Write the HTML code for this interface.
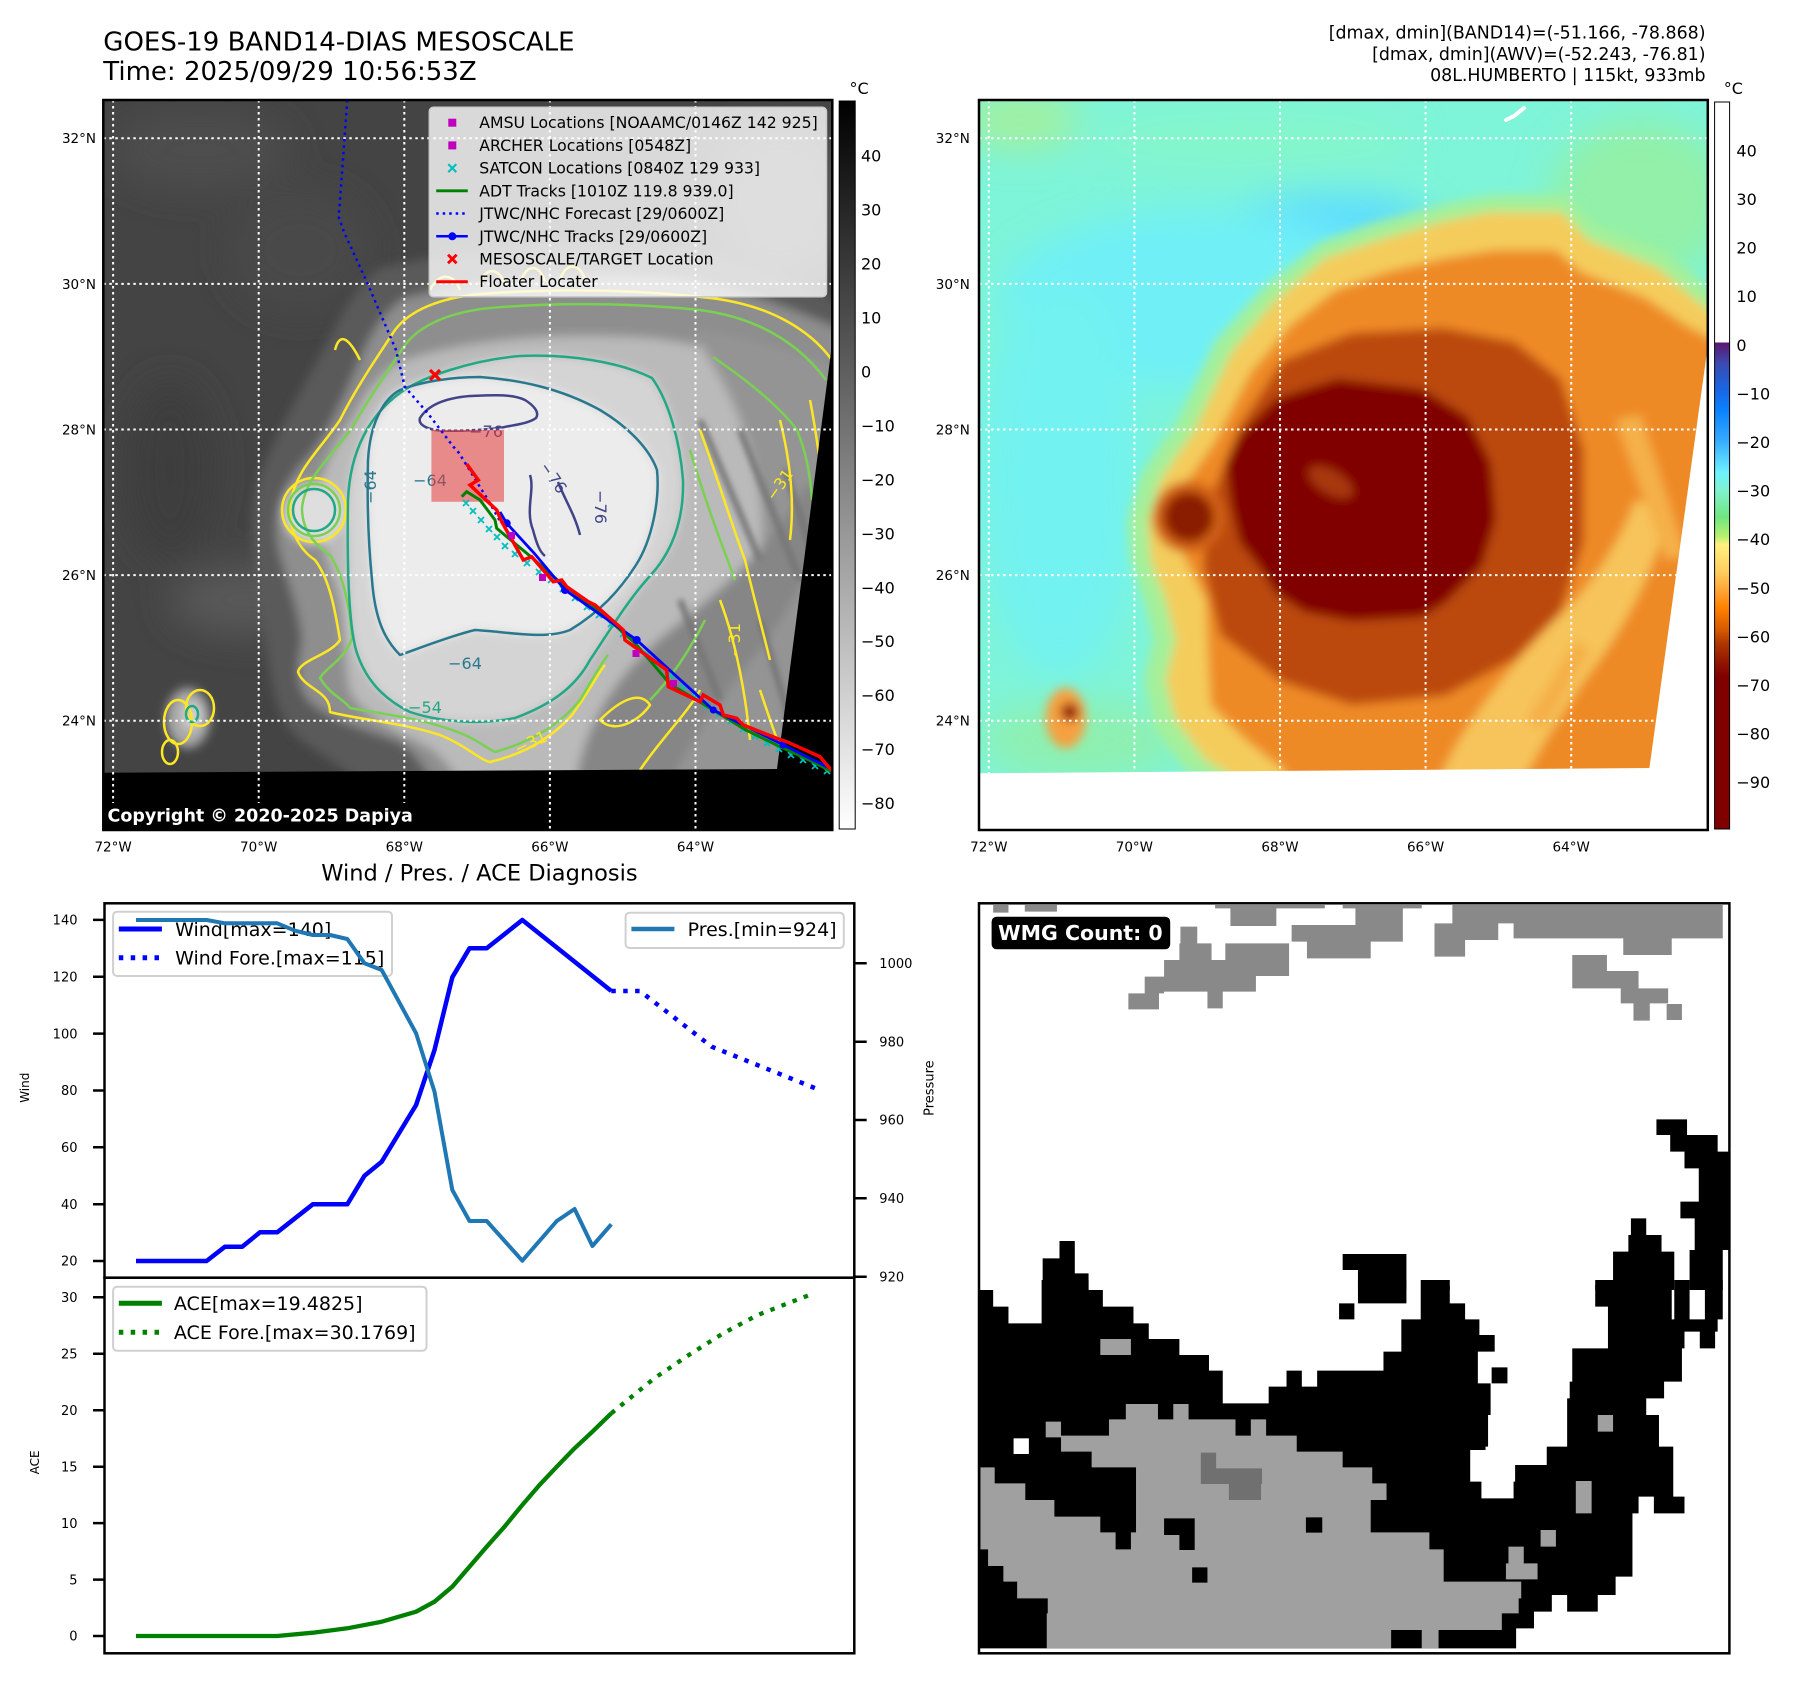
<!DOCTYPE html>
<html><head><meta charset="utf-8"><style>
html,body{margin:0;padding:0;background:#fff;}
body{width:1797px;height:1690px;overflow:hidden;}
svg{display:block;font-family:"DejaVu Sans","Liberation Sans",sans-serif;}
</style></head><body>
<svg width="1797" height="1690" viewBox="0 0 1797 1690" xmlns="http://www.w3.org/2000/svg">
<defs>
<clipPath id="clipL"><rect x="103.3" y="100" width="729" height="730"/></clipPath>
<clipPath id="clipR"><rect x="979" y="100" width="728.8" height="730"/></clipPath>
<filter id="b5" x="-20%" y="-20%" width="140%" height="140%"><feGaussianBlur stdDeviation="5"/></filter>
<filter id="b18" x="-50%" y="-50%" width="200%" height="200%"><feGaussianBlur stdDeviation="18"/></filter>
<filter id="b3" x="-20%" y="-20%" width="140%" height="140%"><feGaussianBlur stdDeviation="3"/></filter>
<linearGradient id="gL" x1="0" y1="0" x2="0" y2="1"><stop offset="0" stop-color="#000"/><stop offset="1" stop-color="#fff"/></linearGradient>
<linearGradient id="gR" x1="0" y1="0" x2="0" y2="1">
<stop offset="0" stop-color="#fff"/><stop offset="0.331" stop-color="#fff"/>
<stop offset="0.3311" stop-color="#5c1670"/><stop offset="0.359" stop-color="#3c4ab0"/>
<stop offset="0.393" stop-color="#1a64e0"/><stop offset="0.424" stop-color="#0a82ff"/>
<stop offset="0.465" stop-color="#35aaff"/><stop offset="0.510" stop-color="#6ef2ff"/>
<stop offset="0.534" stop-color="#80f2d0"/><stop offset="0.571" stop-color="#70e680"/>
<stop offset="0.598" stop-color="#b8f070"/><stop offset="0.609" stop-color="#fff080"/>
<stop offset="0.644" stop-color="#ffd060"/><stop offset="0.675" stop-color="#ffa030"/>
<stop offset="0.695" stop-color="#ff8200"/><stop offset="0.726" stop-color="#d85a00"/>
<stop offset="0.744" stop-color="#b03800"/><stop offset="0.772" stop-color="#901400"/>
<stop offset="0.791" stop-color="#800000"/><stop offset="1" stop-color="#800000"/>
</linearGradient>
<path id="sH" d="M380,268 C470,248 580,238 680,248 C760,260 820,288 860,318 L860,860 L440,860 C400,800 340,770 296,736 C268,706 268,652 262,604 C252,562 248,510 262,470 C282,420 318,362 338,322 C350,298 364,280 380,268 Z"/>
<path id="sF" d="M405,298 C470,282 560,272 650,276 C730,282 790,308 860,338 L860,860 L470,860 C445,800 425,760 400,742 C362,728 330,720 310,702 C292,682 300,656 302,640 C300,610 286,580 278,546 C272,510 285,480 310,455 C330,430 345,395 360,360 C372,330 386,310 405,298 Z"/>
<path id="sOL" d="M400,362 C470,338 560,332 650,338 C720,346 790,370 860,392 L860,860 L500,860 C475,800 452,764 430,748 C392,728 362,716 350,690 C344,660 345,630 340,600 C332,570 318,540 318,505 C320,470 335,445 352,420 C366,392 380,374 400,362 Z"/>
<path id="sE" d="M690,330 C760,340 820,360 860,380 L860,800 L660,800 C690,720 740,640 760,560 C770,480 740,400 690,330 Z"/>
<path id="sYL" d="M575,790 C582,725 618,672 668,632 C718,592 768,552 808,482 L836,505 C814,572 782,624 742,672 C708,716 684,752 668,790 Z"/>
<path id="c54" d="M400,393 C420,378 470,360 520,356 C570,354 620,362 652,378 C668,400 680,440 683,480 C684,520 672,552 650,576 C628,600 610,630 590,660 C575,688 550,705 515,718 C480,725 440,722 410,712 C385,700 365,680 356,650 C348,620 347,560 348,500 C350,450 370,415 400,393 Z"/>
<path id="c64" d="M400,390 C420,382 450,377 480,377 C520,380 560,388 600,410 C630,428 650,450 657,470 C660,500 652,540 636,565 C620,590 600,612 570,630 C545,640 510,632 475,630 C450,636 420,648 400,655 C385,640 375,620 372,580 C368,540 367,500 368,460 C370,425 382,400 400,390 Z"/>
</defs>

<rect x="0" y="0" width="1797" height="1690" fill="#fff"/>

<!-- Titles -->
<text x="103.3" y="50.7" font-size="26" fill="#000">GOES-19 BAND14-DIAS MESOSCALE</text>
<text x="103.3" y="80" font-size="26" fill="#000">Time: 2025/09/29 10:56:53Z</text>
<g font-size="17.4" text-anchor="end" fill="#000">
<text x="1705.5" y="38.5">[dmax, dmin](BAND14)=(-51.166, -78.868)</text>
<text x="1705.5" y="60">[dmax, dmin](AWV)=(-52.243, -76.81)</text>
<text x="1705.5" y="81">08L.HUMBERTO | 115kt, 933mb</text>
</g>

<!-- ================= LEFT MAP ================= -->
<g clip-path="url(#clipL)">
<rect x="103.3" y="100" width="729" height="730" fill="#444"/>
<g filter="url(#b18)">
<ellipse cx="200" cy="150" rx="90" ry="40" fill="#4e4e4e"/>
<ellipse cx="250" cy="600" rx="80" ry="35" fill="#585858"/>
<ellipse cx="170" cy="470" rx="45" ry="90" fill="#3c3c3c"/>
<ellipse cx="300" cy="250" rx="70" ry="60" fill="#4a4a4a"/>
<ellipse cx="780" cy="200" rx="70" ry="80" fill="#5a5a5a"/>
</g>
<g filter="url(#b5)">
<use href="#sH" fill="#5a5a5a"/>
<use href="#sF" fill="#8e8e8e"/>
<use href="#sOL" fill="#bababa"/>
<use href="#sE" fill="#949494"/>
<use href="#sYL" fill="#868686"/>
<use href="#c54" fill="#d4d4d4"/>
<use href="#c64" fill="#ececec"/>
<circle cx="314" cy="513" r="30" fill="#dedede"/>
<ellipse cx="188" cy="718" rx="22" ry="30" fill="#a8a8a8"/>
<ellipse cx="192" cy="716" rx="10" ry="14" fill="#d0d0d0"/>
</g>
<g filter="url(#b3)" stroke="#747474" stroke-width="6" fill="none">
<path d="M700,420 L760,560"/><path d="M740,430 L800,580"/><path d="M680,600 L720,700"/><path d="M760,620 L790,720"/><path d="M785,470 L815,560"/>
</g>
<!-- contours -->
<g fill="none" stroke-width="2.5" stroke-linejoin="round">
<path stroke="#fde725" d="M832,360 C810,330 770,305 710,298 C640,290 560,288 480,294 C440,298 410,310 395,330 C375,360 355,390 340,420 C320,450 295,470 290,505 C288,530 300,550 315,560 C330,580 335,610 340,640 C330,655 300,660 298,672 C305,690 330,690 330,712 C360,720 400,722 440,735 C465,745 480,760 490,762 C520,755 550,740 572,715 C590,690 600,670 605,665"/>
<path stroke="#fde725" d="M700,430 C715,470 730,520 745,560 C752,590 760,620 770,660 M780,420 C790,460 795,500 790,540 M640,770 C660,740 690,710 700,690 M760,690 C770,720 780,750 790,770 M720,600 C735,640 745,690 750,740 M810,400 C818,440 822,480 828,520 M600,720 C620,700 640,690 650,705 C640,720 615,735 600,720 Z"/>
<path stroke="#fde725" d="M430,290 C440,270 455,275 460,290 M480,285 C485,265 500,268 505,285 M520,282 C528,262 540,265 545,282 M560,280 C565,262 580,262 585,280 M360,360 C350,340 340,330 335,350"/>
<circle cx="314" cy="510" r="32" stroke="#fde725"/>
<ellipse cx="178" cy="722" rx="14" ry="22" stroke="#fde725"/>
<ellipse cx="200" cy="708" rx="14" ry="18" stroke="#fde725"/>
<ellipse cx="170" cy="752" rx="8" ry="12" stroke="#fde725"/>
<path stroke="#7ad151" d="M826,380 C800,345 760,318 700,310 C630,303 560,302 490,308 C450,312 420,325 405,345 C385,375 368,400 352,428 C330,458 305,478 302,508 C302,530 315,545 330,555 C345,578 350,610 352,638 C345,660 325,668 320,678 C330,695 345,700 350,708 C390,715 430,720 465,735 C480,742 490,750 495,752 C530,742 560,725 580,700 C592,680 600,665 608,655"/>
<path stroke="#7ad151" d="M690,450 C705,500 720,540 735,580 M650,700 C670,680 690,650 705,620 M713,357 C747,380 780,407 797,430 C805,450 810,470 812,500"/>
<circle cx="314" cy="510" r="26" stroke="#7ad151"/>
<use href="#c54" stroke="#22a884"/>
<circle cx="314" cy="510" r="21" stroke="#22a884"/>
<ellipse cx="192" cy="714" rx="6" ry="8" stroke="#22a884"/>
<use href="#c64" stroke="#2a788e"/>
<path stroke="#414487" d="M420,418 C428,405 445,398 470,396 C495,395 512,394 525,400 C533,405 540,412 536,418 C528,424 512,425 500,428 C480,430 455,432 435,430 C425,428 418,424 420,418 Z M530,475 C535,490 525,510 533,530 C537,545 540,552 545,556 M558,482 C565,500 575,515 580,535"/>
</g>
<g font-size="16">
<text x="486" y="437" fill="#414487" text-anchor="middle">−76</text>
<text x="553" y="483" fill="#414487" text-anchor="middle" transform="rotate(55 553 478)">−76</text>
<text x="600" y="512" fill="#414487" text-anchor="middle" transform="rotate(90 600 507)">−76</text>
<text x="430" y="486" fill="#2a788e" text-anchor="middle">−64</text>
<text x="371" y="492" fill="#2a788e" text-anchor="middle" transform="rotate(-90 371 487)">−64</text>
<text x="465" y="669" fill="#2a788e" text-anchor="middle">−64</text>
<text x="425" y="713" fill="#22a884" text-anchor="middle">−54</text>
<text x="531" y="748" fill="#fde725" text-anchor="middle" transform="rotate(-25 531 743)">−31</text>
<text x="735" y="645" fill="#fde725" text-anchor="middle" transform="rotate(-90 735 640)">−31</text>
<text x="780" y="490" fill="#fde725" text-anchor="middle" transform="rotate(-55 780 485)">−31</text>
</g>
<!-- black no-data -->
<polygon points="832.3,342 832.3,830 103.3,830 103.3,772.7 777,769" fill="#000"/>
<!-- grid -->
<g stroke="#fff" stroke-width="2" stroke-dasharray="2.5 3.5" fill="none">
<path d="M113.1,100V830M258.7,100V830M404.3,100V830M549.9,100V830M695.5,100V830"/>
<path d="M103.3,138.3H832.3M103.3,283.9H832.3M103.3,429.5H832.3M103.3,575.1H832.3M103.3,720.7H832.3"/>
</g>
<!-- pink rect -->
<rect x="431.4" y="429.8" width="72.6" height="72" fill="#e83a3a" opacity="0.55"/>
<!-- tracks -->
<g stroke="#00bfbf" stroke-width="1.8">
<path d="M463,500l6,6m0,-6l-6,6M470,508l6,6m0,-6l-6,6M478,517l6,6m0,-6l-6,6M486,526l6,6m0,-6l-6,6M494,534l6,6m0,-6l-6,6M502,543l6,6m0,-6l-6,6M512,551l6,6m0,-6l-6,6M524,560l6,6m0,-6l-6,6M536,569l6,6m0,-6l-6,6M548,577l6,6m0,-6l-6,6M560,586l6,6m0,-6l-6,6M572,595l6,6m0,-6l-6,6M584,604l6,6m0,-6l-6,6M596,612l6,6m0,-6l-6,6M608,621l6,6m0,-6l-6,6M620,631l6,6m0,-6l-6,6M632,641l6,6m0,-6l-6,6M644,651l6,6m0,-6l-6,6M656,662l6,6m0,-6l-6,6M668,673l6,6m0,-6l-6,6M680,684l6,6m0,-6l-6,6M692,694l6,6m0,-6l-6,6M704,703l6,6m0,-6l-6,6M716,711l6,6m0,-6l-6,6M728,718l6,6m0,-6l-6,6M740,726l6,6m0,-6l-6,6M752,733l6,6m0,-6l-6,6M764,740l6,6m0,-6l-6,6M776,746l6,6m0,-6l-6,6M788,752l6,6m0,-6l-6,6M800,757l6,6m0,-6l-6,6M812,763l6,6m0,-6l-6,6M824,768l6,6m0,-6l-6,6"/>
</g>
<path d="M347.3,100 L344.4,140 L340,200 L338.6,216.7 L344.4,233 L367.3,283 L396,350 L404.7,386.7 L427.6,413 L453.4,446.7 L459,453 L488,500 L499.4,520" fill="none" stroke="#0000ff" stroke-width="2.5" stroke-dasharray="2.5 4"/>
<path d="M461.7,496.7 L466.7,491.7 L480,500 L495,520 L496.7,528.3 L530,556 L562,584 L600,612 L635,643 L670,684 L700,702 L746,730 L780,746.7 L809,760 L833,772" fill="none" stroke="#008000" stroke-width="3"/>
<path d="M500,512 L506.7,523.3 L534,553 L565,590 L636.7,640 L713.3,710 L780,743.3 L826.7,766.7 L834,770" fill="none" stroke="#0000ff" stroke-width="2.8"/>
<g fill="#0000ff"><circle cx="506.7" cy="523.3" r="4"/><circle cx="565" cy="590" r="4"/><circle cx="636.7" cy="640" r="4"/><circle cx="713.3" cy="710" r="3.5"/><circle cx="783" cy="745" r="3.5"/></g>
<path d="M466.7,464 L478.3,480 L470,485 L496.7,510 L501.7,521.7 L523.3,560 L531.7,556.7 L553.3,581.7 L561.7,580 L566.7,586.7 L588.3,601.7 L595,605 L623.3,630 L625,640 L666.7,670 L668.3,686.7 L700,701.7 L703.3,695 L720,705 L723.3,715 L736.7,718.3 L743.3,725 L776.7,738.3 L786.7,741.7 L820,756.7 L828.3,766.7 L834,772" fill="none" stroke="#ff0000" stroke-width="3.5" stroke-linejoin="miter"/>
<g fill="#bf00bf"><rect x="508" y="532" width="7" height="7"/><rect x="539" y="574" width="7" height="7"/><rect x="632.5" y="650" width="7" height="7"/><rect x="670" y="680" width="7" height="7"/></g>
<path d="M430,370l10,10m0,-10l-10,10" stroke="#ff0000" stroke-width="3.2"/>
<!-- legend -->
<rect x="429.3" y="107.3" width="397.2" height="189.4" rx="4" fill="#fff" fill-opacity="0.8" stroke="#cccccc" stroke-width="1.5"/>
<rect x="448.3" y="118.7" width="8" height="8" fill="#bf00bf"/>
<rect x="448.3" y="141.4" width="8" height="8" fill="#bf00bf"/>
<path d="M448.3,164.1l8,8m0,-8l-8,8" stroke="#00bfbf" stroke-width="2.2"/>
<path d="M436.2,190.8H467.8" stroke="#008000" stroke-width="2.8"/>
<path d="M436.2,213.5H467.8" stroke="#0000ff" stroke-width="2.5" stroke-dasharray="2.5 4"/>
<path d="M436.2,236.3H467.8" stroke="#0000ff" stroke-width="2.5"/><circle cx="452.3" cy="236.3" r="4" fill="#0000ff"/>
<path d="M448,254.7l8.6,8.6m0,-8.6l-8.6,8.6" stroke="#ff0000" stroke-width="2.8"/>
<path d="M436.2,281.7H467.8" stroke="#ff0000" stroke-width="3"/>
<g font-size="15.7" fill="#000">
<text x="479.3" y="128.2">AMSU Locations [NOAAMC/0146Z 142 925]</text>
<text x="479.3" y="150.9">ARCHER Locations [0548Z]</text>
<text x="479.3" y="173.6">SATCON Locations [0840Z 129 933]</text>
<text x="479.3" y="196.3">ADT Tracks [1010Z 119.8 939.0]</text>
<text x="479.3" y="219">JTWC/NHC Forecast [29/0600Z]</text>
<text x="479.3" y="241.8">JTWC/NHC Tracks [29/0600Z]</text>
<text x="479.3" y="264.5">MESOSCALE/TARGET Location</text>
<text x="479.3" y="287.2">Floater Locater</text>
</g>
<rect x="104" y="803" width="311" height="27" rx="4" fill="#000"/>
<text x="107.5" y="821.7" font-size="17.5" font-weight="bold" fill="#fff">Copyright © 2020-2025 Dapiya</text>
</g>
<rect x="103.3" y="100" width="729" height="730" fill="none" stroke="#000" stroke-width="2.5"/>

<!-- left colorbar -->
<rect x="839.2" y="101" width="16" height="728" fill="url(#gL)" stroke="#000" stroke-width="1"/>
<text x="849.5" y="94" font-size="16">°C</text>
<g font-size="16" fill="#000">
<text x="861" y="161.7">40</text><text x="861" y="215.7">30</text><text x="861" y="269.6">20</text><text x="861" y="323.6">10</text>
<text x="861" y="377.5">0</text><text x="861" y="431.4">−10</text><text x="861" y="485.4">−20</text><text x="861" y="539.3">−30</text>
<text x="861" y="593.3">−40</text><text x="861" y="647.2">−50</text><text x="861" y="701.1">−60</text><text x="861" y="755.1">−70</text><text x="861" y="809">−80</text>
</g>

<!-- lat/lon labels -->
<g font-size="13.5" fill="#000" text-anchor="end">
<text x="96" y="143.2">32°N</text><text x="96" y="288.8">30°N</text><text x="96" y="434.4">28°N</text><text x="96" y="580">26°N</text><text x="96" y="725.6">24°N</text>
<text x="969.8" y="143.2">32°N</text><text x="969.8" y="288.8">30°N</text><text x="969.8" y="434.4">28°N</text><text x="969.8" y="580">26°N</text><text x="969.8" y="725.6">24°N</text>
</g>
<g font-size="13.5" fill="#000" text-anchor="middle">
<text x="113.1" y="851.5">72°W</text><text x="258.7" y="851.5">70°W</text><text x="404.3" y="851.5">68°W</text><text x="549.9" y="851.5">66°W</text><text x="695.5" y="851.5">64°W</text>
<text x="988.8" y="851.5">72°W</text><text x="1134.4" y="851.5">70°W</text><text x="1280" y="851.5">68°W</text><text x="1425.6" y="851.5">66°W</text><text x="1571.2" y="851.5">64°W</text>
</g>

<!-- ================= RIGHT MAP ================= -->
<g clip-path="url(#clipR)">
<rect x="979" y="100" width="728.8" height="730" fill="#7ef4d8"/>
<g filter="url(#b18)">
<ellipse cx="1330" cy="232" rx="110" ry="38" fill="#5cdcff"/>
<ellipse cx="1200" cy="300" rx="200" ry="90" fill="#70f0f6"/>
<ellipse cx="1060" cy="480" rx="80" ry="200" fill="#72f2f0"/>
<ellipse cx="1080" cy="740" rx="100" ry="40" fill="#8ef0b0"/>
<ellipse cx="1640" cy="200" rx="90" ry="80" fill="#92f0a8"/>
<ellipse cx="1020" cy="120" rx="60" ry="30" fill="#a0f0a0"/>
<ellipse cx="1250" cy="140" rx="160" ry="30" fill="#84f6cc"/>
</g>
<g transform="translate(875.7,0)">
<g filter="url(#b5)">
<polygon fill="#a4f09a" points="300,425 340,340 390,285 445,242 500,222 569,204 615,195 690,195 720,225 790,252 830,285 860,310 860,860 360,860 360,790 310,770 280,730 268,680 278,640 268,600 255,560 252,520 265,475 285,445"/>
<polygon fill="#f4cc5c" points="318,432 356,352 400,300 450,258 503,240 569,221 615,212 686,212 712,240 782,268 820,300 860,330 860,860 380,860 380,790 330,760 300,720 290,680 300,640 290,600 275,560 272,520 285,480 305,450"/>
<polygon fill="#ee8a28" points="340,440 375,372 415,325 460,290 510,272 570,258 620,250 680,250 705,272 770,298 810,325 860,352 860,860 420,860 410,772 370,740 335,705 332,650 330,600 310,560 300,520 312,480 330,455"/>
<path fill="#f6c45a" d="M560,790 C580,730 640,660 690,610 C720,580 745,540 760,500 L792,512 C782,562 752,622 722,662 C692,702 662,752 642,790 Z"/>
<path fill="#f5b048" d="M740,420 L790,560 L810,555 L765,415 Z M650,720 L700,640 L715,650 L668,730 Z"/>
<polygon fill="#bb4808" points="364,426 406,361 476,333 569,328 639,342 685,379 708,449 708,542 685,612 639,659 569,696 476,705 406,682 345,635 327,566 336,496"/>
<polygon fill="#800000" points="401,398 462,379 546,389 592,417 615,463 620,519 606,566 569,603 546,617 476,621 429,612 401,594 383,566 364,542 355,505 350,463 364,435"/>
<ellipse cx="455" cy="482" rx="25" ry="12" fill="#a83810" transform="rotate(30 455 482)"/>
<circle cx="313" cy="517" r="36" fill="#d26216"/>
<circle cx="313" cy="517" r="25" fill="#8a1a00"/>
<ellipse cx="190" cy="718" rx="20" ry="30" fill="#f6a040"/>
<circle cx="194" cy="712" r="9" fill="#901000"/>
</g>
</g>
<path d="M1506,120 L1514,116 L1524,108" stroke="#fff" stroke-width="4" fill="none" stroke-linecap="round"/>
<g stroke="#fff" stroke-width="2" stroke-dasharray="2.5 3.5" fill="none">
<path d="M988.8,100V830M1134.4,100V830M1280,100V830M1425.6,100V830M1571.2,100V830"/>
<path d="M979,138.3H1707.8M979,283.9H1707.8M979,429.5H1707.8M979,575.1H1707.8M979,720.7H1707.8"/>
</g>
<polygon points="1707.8,346 1707.8,830 979,830 979,773.3 1649.4,768" fill="#fff"/>
</g>
<rect x="979" y="100" width="728.8" height="730" fill="none" stroke="#000" stroke-width="2.5"/>

<!-- right colorbar -->
<rect x="1714.6" y="102" width="15" height="727" fill="url(#gR)" stroke="#000" stroke-width="1"/>
<text x="1723.8" y="94" font-size="16">°C</text>
<g font-size="16" fill="#000">
<text x="1736.4" y="156.4">40</text><text x="1736.4" y="205">30</text><text x="1736.4" y="253.6">20</text><text x="1736.4" y="302.2">10</text>
<text x="1736.4" y="350.8">0</text><text x="1736.4" y="399.4">−10</text><text x="1736.4" y="448">−20</text><text x="1736.4" y="496.6">−30</text>
<text x="1736.4" y="545.2">−40</text><text x="1736.4" y="593.8">−50</text><text x="1736.4" y="642.4">−60</text><text x="1736.4" y="691">−70</text>
<text x="1736.4" y="739.6">−80</text><text x="1736.4" y="788.2">−90</text>
</g>

<!-- ================= WIND / PRES / ACE ================= -->
<text x="479.4" y="880.5" font-size="22.5" text-anchor="middle" fill="#000">Wind / Pres. / ACE Diagnosis</text>

<rect x="113.1" y="911.7" width="278.9" height="64.3" rx="4" fill="#fff" fill-opacity="0.8" stroke="#d0d0d0" stroke-width="2"/>
<path d="M118.8,929H161.9" stroke="#0000ff" stroke-width="5"/>
<path d="M118.8,957.7H161.9" stroke="#0000ff" stroke-width="5" stroke-dasharray="4.5 7.4"/>
<g font-size="19" fill="#000">
<text x="175.1" y="935.8">Wind[max=140]</text>
<text x="175.1" y="964.5">Wind Fore.[max=115]</text>
</g>

<polyline points="136,1261 206.6,1261 225,1246.7 242.2,1246.7 260,1232.3 277.2,1232.3 312.8,1204.3 347.3,1204.3 364.5,1175.7 381.7,1161.7 416.1,1105 434.5,1050 452.3,977.3 469.5,948.3 486.7,948.3 522.3,920 611.3,991" fill="none" stroke="#0000ff" stroke-width="4.5" stroke-linejoin="round"/>
<polyline points="611.3,991 640,991 711.7,1046.7 819.7,1090" fill="none" stroke="#0000ff" stroke-width="4.5" stroke-dasharray="4.5 7.4"/>
<polyline points="136,920 206.6,920 225,923.3 277.2,923.3 295,930.7 312.8,935 330,935 347.3,939 364.5,963.3 381.7,970 416.1,1033.3 434.5,1091.7 452.3,1190 469.5,1221 486.7,1221 522.3,1260.7 556.8,1221 574.6,1209 592.4,1246 611.3,1224.3" fill="none" stroke="#1f77b4" stroke-width="4" stroke-linejoin="round"/>

<rect x="625.6" y="912.7" width="218.2" height="35.3" rx="4" fill="#fff" fill-opacity="0.8" stroke="#d0d0d0" stroke-width="2"/>
<path d="M631.4,929H674.4" stroke="#1f77b4" stroke-width="4.5"/>
<text x="687.6" y="935.8" font-size="19" fill="#000">Pres.[min=924]</text>

<rect x="104.5" y="903.3" width="749.8" height="374.4" fill="none" stroke="#000" stroke-width="2.5"/>
<g stroke="#000" stroke-width="2.5">
<path d="M93,1261H104.5M93,1204.2H104.5M93,1147.3H104.5M93,1090.5H104.5M93,1033.6H104.5M93,976.8H104.5M93,919.9H104.5"/>
<path d="M855.5,1276.7H866.7M855.5,1198.3H866.7M855.5,1120H866.7M855.5,1041.7H866.7M855.5,963.3H866.7"/>
<path d="M93,1636H104.5M93,1579.6H104.5M93,1523.1H104.5M93,1466.7H104.5M93,1410.2H104.5M93,1353.8H104.5M93,1297.3H104.5"/>
</g>
<g font-size="13" fill="#000" text-anchor="end">
<text x="77.5" y="1265.7">20</text><text x="77.5" y="1208.9">40</text><text x="77.5" y="1152">60</text><text x="77.5" y="1095.2">80</text>
<text x="77.5" y="1038.3">100</text><text x="77.5" y="981.5">120</text><text x="77.5" y="924.6">140</text>
<text x="77.5" y="1640.7">0</text><text x="77.5" y="1584.3">5</text><text x="77.5" y="1527.8">10</text><text x="77.5" y="1471.4">15</text>
<text x="77.5" y="1414.9">20</text><text x="77.5" y="1358.5">25</text><text x="77.5" y="1302">30</text>
</g>
<g font-size="13" fill="#000">
<text x="879.3" y="1281.4">920</text><text x="879.3" y="1203">940</text><text x="879.3" y="1124.7">960</text><text x="879.3" y="1046.4">980</text><text x="879.3" y="968">1000</text>
</g>
<text x="33" y="1091.7" font-size="12" text-anchor="middle" transform="rotate(-90 29 1091.7)">Wind</text>
<text x="937.5" y="1092.3" font-size="13" text-anchor="middle" transform="rotate(-90 933.3 1092.3)">Pressure</text>
<text x="43.3" y="1466.7" font-size="12" text-anchor="middle" transform="rotate(-90 39 1466.7)">ACE</text>

<!-- ACE -->
<rect x="104.5" y="1277.7" width="749.8" height="375.6" fill="none" stroke="#000" stroke-width="2.5"/>
<rect x="113.1" y="1286.7" width="313.4" height="64" rx="4" fill="#fff" fill-opacity="0.8" stroke="#d0d0d0" stroke-width="2"/>
<path d="M118.8,1303.3H161.9" stroke="#008000" stroke-width="5"/>
<path d="M118.8,1332.3H161.9" stroke="#008000" stroke-width="5" stroke-dasharray="4.5 7.4"/>
<g font-size="19" fill="#000">
<text x="173.9" y="1310.1">ACE[max=19.4825]</text>
<text x="173.9" y="1339.1">ACE Fore.[max=30.1769]</text>
</g>
<polyline points="136,1636 277.2,1636 312.8,1632.7 347.3,1628.3 381.7,1621.7 416.1,1611.7 434.5,1601.7 452.3,1586.7 469.5,1566.7 486.7,1546.7 504.5,1526.7 522.3,1505 539.5,1485 556.8,1466.7 574.6,1448.3 592.4,1431.7 611.3,1413.3" fill="none" stroke="#008000" stroke-width="4.3" stroke-linejoin="round"/>
<polyline points="611.3,1413.3 654.3,1378.3 688.8,1355 723.2,1333.3 757.7,1315 792.1,1301.7 812.2,1294" fill="none" stroke="#008000" stroke-width="4.3" stroke-dasharray="4.5 7.4"/>

<!-- ================= WMG PANEL ================= -->
<rect x="979" y="903.3" width="750.4" height="750" fill="#fff"/>
<g transform="translate(960,890) scale(0.510204,0.333333)">
<path fill="#898989" d="M65 45h30v23h-30ZM127 45h63v20h-63ZM500 45h215v10h-215ZM530 55h90v53h-90ZM750 45h155v10h-155ZM775 55h93v100h-93ZM650 105h218v50h-218ZM680 155h125v50h-125ZM965 45h530v55h-530ZM930 100h125v50h-125ZM930 150h60v50h-60ZM1085 100h410v45h-410ZM1300 145h95v50h-95ZM1200 195h68v100h-68ZM1268 243h62v52h-62ZM1295 295h93v45h-93ZM1320 340h32v52h-32ZM1385 342h30v48h-30ZM432 110h33v50h-33ZM430 160h63v50h-63ZM520 160h125v98h-125ZM400 210h180v95h-180ZM362 260h38v50h-38ZM330 310h60v48h-60ZM485 305h30v50h-30Z"/>
<path fill="#000" d="M1365 688h60v47h-60ZM1392 735h93v50h-93ZM1420 785h88v50h-88ZM1448 835h60v100h-60ZM1412 935h96v50h-96ZM1440 985h68v95h-68ZM1430 1080h65v120h-65ZM1315 985h30v50h-30ZM1310 1035h65v50h-65ZM1280 1085h120v115h-120ZM750 1092h125v48h-125ZM780 1140h95v60h-95ZM905 1188h55v12h-55ZM195 1053h30v52h-30ZM162 1105h63v45h-63ZM162 1150h90v50h-90ZM1245 1185h95v15h-95Z"/>
</g>
<g transform="translate(960,1280) scale(0.510204,0.333333)">
<path fill="#000" d="M160 0H252V30H160Z M780 0H875V30H780Z M903 0H960V30H903Z M1245 0H1370V30H1245Z M1400 0H1430V30H1400Z M1460 0H1495V30H1460Z
M37 30H65V70H37Z M160 30H280V70H160Z M780 30H875V70H780Z M903 30H960V70H903Z M1245 30H1395V70H1245Z M1400 30H1430V70H1400Z M1460 30H1495V70H1460Z
M37 70H65V80H37Z M160 70H280V80H160Z M743 70H773V80H743Z M903 70H990V80H903Z M1245 70H1395V80H1245Z M1400 70H1430V80H1400Z M1460 70H1495V80H1460Z
M37 80H95V118H37Z M160 80H340V118H160Z M743 80H773V118H743Z M903 80H990V118H903Z M1270 80H1395V118H1270Z M1400 80H1430V118H1400Z M1460 80H1495V118H1460Z
M37 118H95V130H37Z M160 118H340V130H160Z M865 118H1018V130H865Z M1270 118H1485V130H1270Z
M37 130H370V155H37Z M865 130H1018V155H865Z M1270 130H1485V155H1270Z
M37 155H370V165H37Z M865 155H1018V165H865Z M1270 155H1420V165H1270Z M1450 155H1480V165H1450Z
M37 165H370V177H37Z M865 165H1048V177H865Z M1270 165H1420V177H1270Z M1450 165H1480V177H1450Z
M37 177H430V205H37Z M865 177H1048V205H865Z M1270 177H1420V205H1270Z M1450 177H1480V205H1450Z
M37 205H430V215H37Z M865 205H1048V215H865Z M1200 205H1415V215H1200Z
M37 215H430V225H37Z M830 215H1015V225H830Z M1200 215H1415V225H1200Z
M37 225H488V262H37Z M830 225H1015V262H830Z M1200 225H1415V262H1200Z
M37 262H488V272H37Z M830 262H1015V272H830Z M1042 262H1073V272H1042Z M1200 262H1415V272H1200Z
M37 272H515V305H37Z M640 272H670V305H640Z M700 272H1015V305H700Z M1042 272H1073V305H1042Z M1200 272H1415V305H1200Z
M37 305H515V310H37Z M640 305H670V310H640Z M700 305H1015V310H700Z M1042 305H1073V310H1042Z M1195 305H1380V310H1195Z
M37 310H515V320H37Z M640 310H670V320H640Z M700 310H1040V320H700Z M1195 310H1380V320H1195Z
M37 320H515V355H37Z M605 320H1040V355H605Z M1195 320H1380V355H1195Z
M37 355H515V370H37Z M605 355H1040V370H605Z M1190 355H1345V370H1190Z
M37 370H1040V405H37Z M1190 370H1345V405H1190Z
M37 405H1035V500H37Z M1190 405H1370V500H1190Z
M37 500H1030V510H37Z M1150 500H1398V510H1150Z
M37 510H1000V555H37Z M1150 510H1398V555H1150Z
M37 555H1000V605H37Z M1088 555H1398V605H1088Z
M37 605H1022V650H37Z M1085 605H1398V650H1085Z
M37 650H1022V655H37Z M1085 650H1330V655H1085Z M1360 650H1420V655H1360Z
M37 655H1330V700H37Z M1360 655H1420V700H1360Z
M37 700H1318V890H37Z
M37 890H1285V945H37Z
M37 945H1160V995H37Z M1190 945H1250V995H1190Z
M37 995H1125V1045H37Z
M37 1045H1090V1105H37Z"/>
<path fill="#a0a0a0" d="M275 177h60v48h-60ZM1250 405h30v50h-30ZM1207 603h31v97h-31ZM1138 750h30v50h-30ZM325 372h63v46h-63ZM418 372h30v46h-30ZM168 425h30v47h-30ZM292 418h248v49h-248ZM570 418h30v49h-30ZM198 467h462v48h-462ZM258 515h492v47h-492ZM40 562h28v48h-28ZM345 562h463v48h-463ZM40 610h88v50h-88ZM345 610h491v50h-491ZM40 660h145v50h-145ZM345 660h460v50h-460ZM40 710h235v47h-235ZM345 710h460v47h-460ZM40 757h265v51h-265ZM335 757h585v51h-585ZM55 808h893v50h-893ZM1075 800h30v50h-30ZM85 858h863v47h-863ZM1070 850h62v48h-62ZM112 905h988v50h-988ZM172 955h923v45h-923ZM170 1000h892v50h-892ZM170 1050h675v55h-675ZM905 1050h33v55h-33Z"/>
<path fill="#000" d="M400 715h60v50h-60ZM430 765h30v45h-30ZM455 862h30v46h-30ZM678 712h32v46h-32Z"/>
<path fill="#fff" d="M105 475h30v47h-30Z"/>
<path fill="#707070" d="M472 518h30v94h-30ZM502 565h90v47h-90ZM527 612h63v48h-63Z"/>
</g>
<rect x="991.6" y="916.7" width="178.6" height="32.6" rx="5" fill="#000"/>
<text x="998" y="940" font-size="20.5" font-weight="bold" fill="#fff">WMG Count: 0</text>
<rect x="979" y="903.3" width="750.4" height="750" fill="none" stroke="#000" stroke-width="2.5"/>
</svg>
</body></html>
